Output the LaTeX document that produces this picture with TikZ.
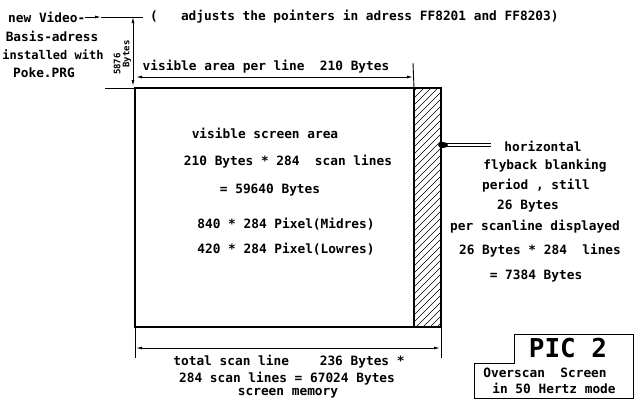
\documentclass[tikz,border=0pt]{standalone}
\usepackage{fontspec}
\setmonofont{DejaVu Sans Mono}
\usetikzlibrary{arrows.meta}
\begin{document}
\begin{tikzpicture}[x=1pt,y=-1pt,
  txt/.style={font=\ttfamily\bfseries\fontsize{12.8}{13}\selectfont, inner sep=0pt},
  small/.style={font=\ttfamily\bfseries\fontsize{9}{9}\selectfont, inner sep=0pt},
  big/.style={font=\ttfamily\bfseries\fontsize{26}{26}\selectfont, inner sep=0pt},
  thick box/.style={line width=2.2pt},
  dim/.style={line width=0.9pt,{Latex[length=6pt,width=3pt]}-{Latex[length=6pt,width=3pt]}},
  thin/.style={line width=0.9pt}]
\useasboundingbox (0,0) rectangle (640,400);
\fill[white] (0,0) rectangle (640,400);

% main box corners
\coordinate (tl) at (135,88);
\coordinate (bl) at (135,327);
\coordinate (hl) at (414,88);
\coordinate (hbl) at (414,327);
\coordinate (tr) at (441,88);
\coordinate (br) at (441,327);

% hatching
\begin{scope}
\clip (hl) rectangle (br);
\foreach \i in {0,7,...,300} {
  \draw[line width=0.5pt] (414,327-\i+30) -- (444,327-\i);
}
\end{scope}
\draw[thick box] (tl) rectangle (br);
\draw[thick box] (hl) -- (hbl);
\draw[thin] (105,88) -- (tl);

% top-left text
\node[txt,anchor=west] (vid) at (8,17) {new Video-};
\node[txt] (basis) at (52,36) {Basis-adress};
\node[txt,font=\ttfamily\bfseries\fontsize{12}{12}\selectfont] (inst) at (53,55) {installed with};
\node[txt] (poke) at (44,73) {Poke.PRG};
\coordinate (vtip) at (101,17);
\coordinate (vend) at (143,17);
\draw[thin,-{Latex[length=6pt,width=3pt]}] (vid.east) -- (vtip);
\draw[thin] (vtip) -- (vend);
\node[txt,anchor=west] (adj) at (150,17) {(~~~adjusts the pointers in adress FF8201 and FF8203)};

% vertical dimension 5876 Bytes
\coordinate (vdt) at (133,17);
\coordinate (vdb) at (133,86);
\draw[dim] (vdt) -- (vdb);
\node[small,rotate=90] (n5876) at (117,64) {5876};
\node[small,rotate=90] (nbytes) at (127,54) {Bytes};

% visible area dimension
\coordinate (vaL) at (136,77);
\coordinate (vaR) at (413,77);
\draw[thin] (413,63) -- (hl);
\draw[dim] (vaL) -- (vaR);
\node[txt] (va) at (266,67) {visible area per line~~210 Bytes};

% inner text
\node[txt] (t1) at (265,133) {visible screen area};
\node[txt] (t2) at (288,162) {210 Bytes * 284~~scan lines};
\node[txt] (t3) at (270,190) {= 59640 Bytes};
\node[txt] (t4) at (286,224) {840 * 284 Pixel(Midres)};
\node[txt] (t5) at (286,249) {420 * 284 Pixel(Lowres)};

% right text
\node[txt] (r1) at (543,146) {horizontal};
\node[txt] (r2) at (545,166) {flyback blanking};
\node[txt] (r3) at (536,186) {period , still};
\node[txt] (r4) at (528,206) {26 Bytes};
\node[txt] (r5) at (535,227) {per scanline~displayed};
\node[txt] (r6) at (540,251) {26 Bytes * 284~~lines};
\node[txt] (r7) at (536,276) {= 7384 Bytes};

% flyback arrow
\coordinate (fa) at (491,145);
\coordinate (fb) at (446,145);
\draw[line width=1pt,double,double distance=2.4pt] (fa) -- (fb);
\fill (443,145) ellipse (5pt and 3pt);

% bottom dimension
\draw[thin] (bl) -- (135,358);
\draw[thin] (br) -- (441,358);
\coordinate (bdL) at (136,348);
\coordinate (bdR) at (440,348);
\draw[dim] (bdL) -- (bdR);
\node[txt] (b1) at (289,362) {total scan line~~~~236 Bytes *};
\node[txt] (b2) at (287,379) {284 scan lines = 67024 Bytes};
\node[txt] (b3) at (288,393) {screen memory};

% PIC 2 box
\draw[thin] (474,398) -- (474,363) -- (514,363) -- (514,334) -- (633,334) -- (633,398) -- cycle;
\node[big] (pic) at (568,348) {PIC 2};
\node[txt] (o1) at (545,373) {Overscan~~Screen};
\node[txt] (o2) at (554,388) {in 50 Hertz mode};
\end{tikzpicture}
\end{document}
